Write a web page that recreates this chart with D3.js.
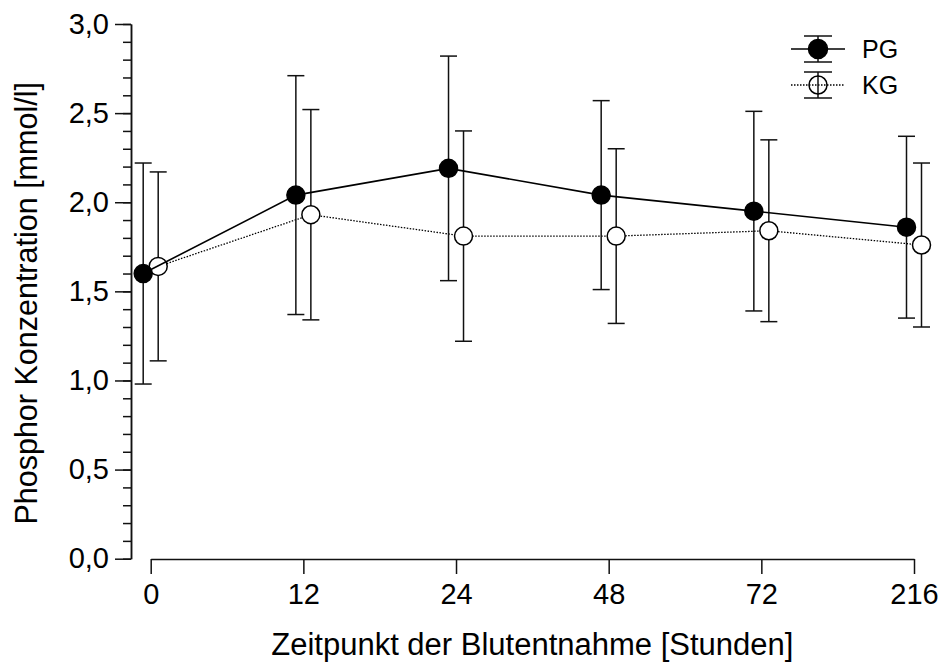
<!DOCTYPE html>
<html>
<head>
<meta charset="utf-8">
<script src="https://cdn.jsdelivr.net/npm/d3@7"></script>
<style>
  html, body { margin: 0; padding: 0; background: #fff; }
  svg { display: block; font-family: "Liberation Sans", Arial, sans-serif; }
</style>
</head>
<body>
<svg id="chart" width="942" height="664"></svg>
<script>
// Blood sampling times (hours)
const categories = ["0", "12", "24", "48", "72", "216"];

// Phosphorus concentration, mean and SD per group (mmol/l)
const pgMean = [1.60, 2.04, 2.19, 2.04, 1.95, 1.86];
const pgSD   = [0.62, 0.67, 0.63, 0.53, 0.56, 0.51];
const kgMean = [1.64, 1.93, 1.81, 1.81, 1.84, 1.76];
const kgSD   = [0.53, 0.59, 0.59, 0.49, 0.51, 0.46];

const yTicks = [0, 0.5, 1.0, 1.5, 2.0, 2.5, 3.0];
const yMinorTicks = d3.range(0, 31).map(d => d / 10);

const seriesNames = ["PG", "KG"];
const xTitle = "Zeitpunkt der Blutentnahme [Stunden]";
const yTitle = "Phosphor Konzentration [mmol/l]";

const svg = d3.select("#chart");
const fmt = d => d.toFixed(1).replace(".", ",");

const x = d3.scalePoint().domain(categories).range([150.7, 914]);
const y = d3.scaleLinear().domain([0, 3]).range([558.7, 24]);

const axisColor = "#111";
const axisWidth = 1.5;
const tickFont = 29;

// Y axis: minor ticks, then major ticks with labels
const yAxisX = 131;
const gyMinor = svg.append("g").attr("transform", `translate(${yAxisX},0)`)
  .call(d3.axisLeft(y).tickValues(yMinorTicks).tickSize(8).tickSizeOuter(0).tickFormat(""));
const gy = svg.append("g").attr("transform", `translate(${yAxisX},0)`)
  .call(d3.axisLeft(y).tickValues(yTicks).tickSize(16).tickSizeOuter(0).tickPadding(6).tickFormat(fmt));
[gyMinor, gy].forEach(g => {
  g.selectAll("path, line").attr("stroke", axisColor).attr("stroke-width", axisWidth);
});
gy.selectAll("text").attr("font-size", tickFont).attr("fill", "#000")
  .attr("font-family", "Liberation Sans, Arial, sans-serif");

// X axis
const xAxisY = 559;
const gx = svg.append("g").attr("transform", `translate(0,${xAxisY})`)
  .call(d3.axisBottom(x).tickSize(15).tickSizeOuter(0).tickPadding(9));
gx.selectAll("path, line").attr("stroke", axisColor).attr("stroke-width", axisWidth);
gx.selectAll("text").attr("font-size", tickFont).attr("fill", "#000")
  .attr("font-family", "Liberation Sans, Arial, sans-serif");

// Axis titles
svg.append("text")
  .attr("x", (x.range()[0] + x.range()[1]) / 2)
  .attr("y", 655)
  .attr("text-anchor", "middle")
  .attr("font-size", 31)
  .text(xTitle);

svg.append("text")
  .attr("transform", `translate(37,${(y(0) + y(3)) / 2 + 12}) rotate(-90)`)
  .attr("text-anchor", "middle")
  .attr("font-size", 30.5)
  .text(yTitle);

// Series
const series = [
  { name: "KG", mean: kgMean, sd: kgSD, offset: 7.5, fill: "#fff", dash: "1.5,1.5", lw: 1.3 },
  { name: "PG", mean: pgMean, sd: pgSD, offset: -7.5, fill: "#000", dash: null, lw: 1.6 }
];
const r = 9;
const capHalf = 8.5;

series.forEach(s => {
  const pts = categories.map((c, i) => ({ c, m: s.mean[i], sd: s.sd[i] }));
  const px = d => x(d.c) + s.offset;
  const g = svg.append("g");

  g.append("path")
    .datum(pts)
    .attr("fill", "none")
    .attr("stroke", "#000")
    .attr("stroke-width", s.lw)
    .attr("stroke-dasharray", s.dash)
    .attr("d", d3.line().x(px).y(d => y(d.m)));

  const eb = g.selectAll(".eb").data(pts).join("g").attr("stroke", "#111").attr("stroke-width", 1.5);
  eb.append("line").attr("x1", px).attr("x2", px)
    .attr("y1", d => y(d.m + d.sd)).attr("y2", d => y(d.m - d.sd));
  eb.append("line").attr("x1", d => px(d) - capHalf).attr("x2", d => px(d) + capHalf)
    .attr("y1", d => y(d.m + d.sd)).attr("y2", d => y(d.m + d.sd));
  eb.append("line").attr("x1", d => px(d) - capHalf).attr("x2", d => px(d) + capHalf)
    .attr("y1", d => y(d.m - d.sd)).attr("y2", d => y(d.m - d.sd));

  g.selectAll("circle").data(pts).join("circle")
    .attr("cx", px).attr("cy", d => y(d.m)).attr("r", r)
    .attr("fill", s.fill).attr("stroke", "#000").attr("stroke-width", 1.5);
});

// Legend
const legendRows = [
  { name: "PG", cy: 49, fill: "#000", dash: null, lw: 1.6 },
  { name: "KG", cy: 85, fill: "#fff", dash: "1.5,1.5", lw: 1.3 }
];
const lg = svg.append("g");
legendRows.forEach(row => {
  const cx = 818;
  lg.append("line").attr("x1", cx - 27).attr("x2", cx + 27)
    .attr("y1", row.cy).attr("y2", row.cy)
    .attr("stroke", "#000").attr("stroke-width", row.lw).attr("stroke-dasharray", row.dash);
  lg.append("line").attr("x1", cx).attr("x2", cx).attr("y1", row.cy - 13).attr("y2", row.cy + 13)
    .attr("stroke", "#111").attr("stroke-width", 1.5);
  [row.cy - 13, row.cy + 13].forEach(yy => {
    lg.append("line").attr("x1", cx - 14).attr("x2", cx + 14).attr("y1", yy).attr("y2", yy)
      .attr("stroke", "#111").attr("stroke-width", 1.5);
  });
  lg.append("circle").attr("cx", cx).attr("cy", row.cy).attr("r", row.fill === "#000" ? 9.5 : 9)
    .attr("fill", row.fill === "#000" ? "#000" : "none").attr("stroke", "#000").attr("stroke-width", 1.5);
  lg.append("text").attr("x", 862).attr("y", row.cy + 9)
    .attr("font-size", 25).text(row.name);
});
</script>
</body>
</html>
